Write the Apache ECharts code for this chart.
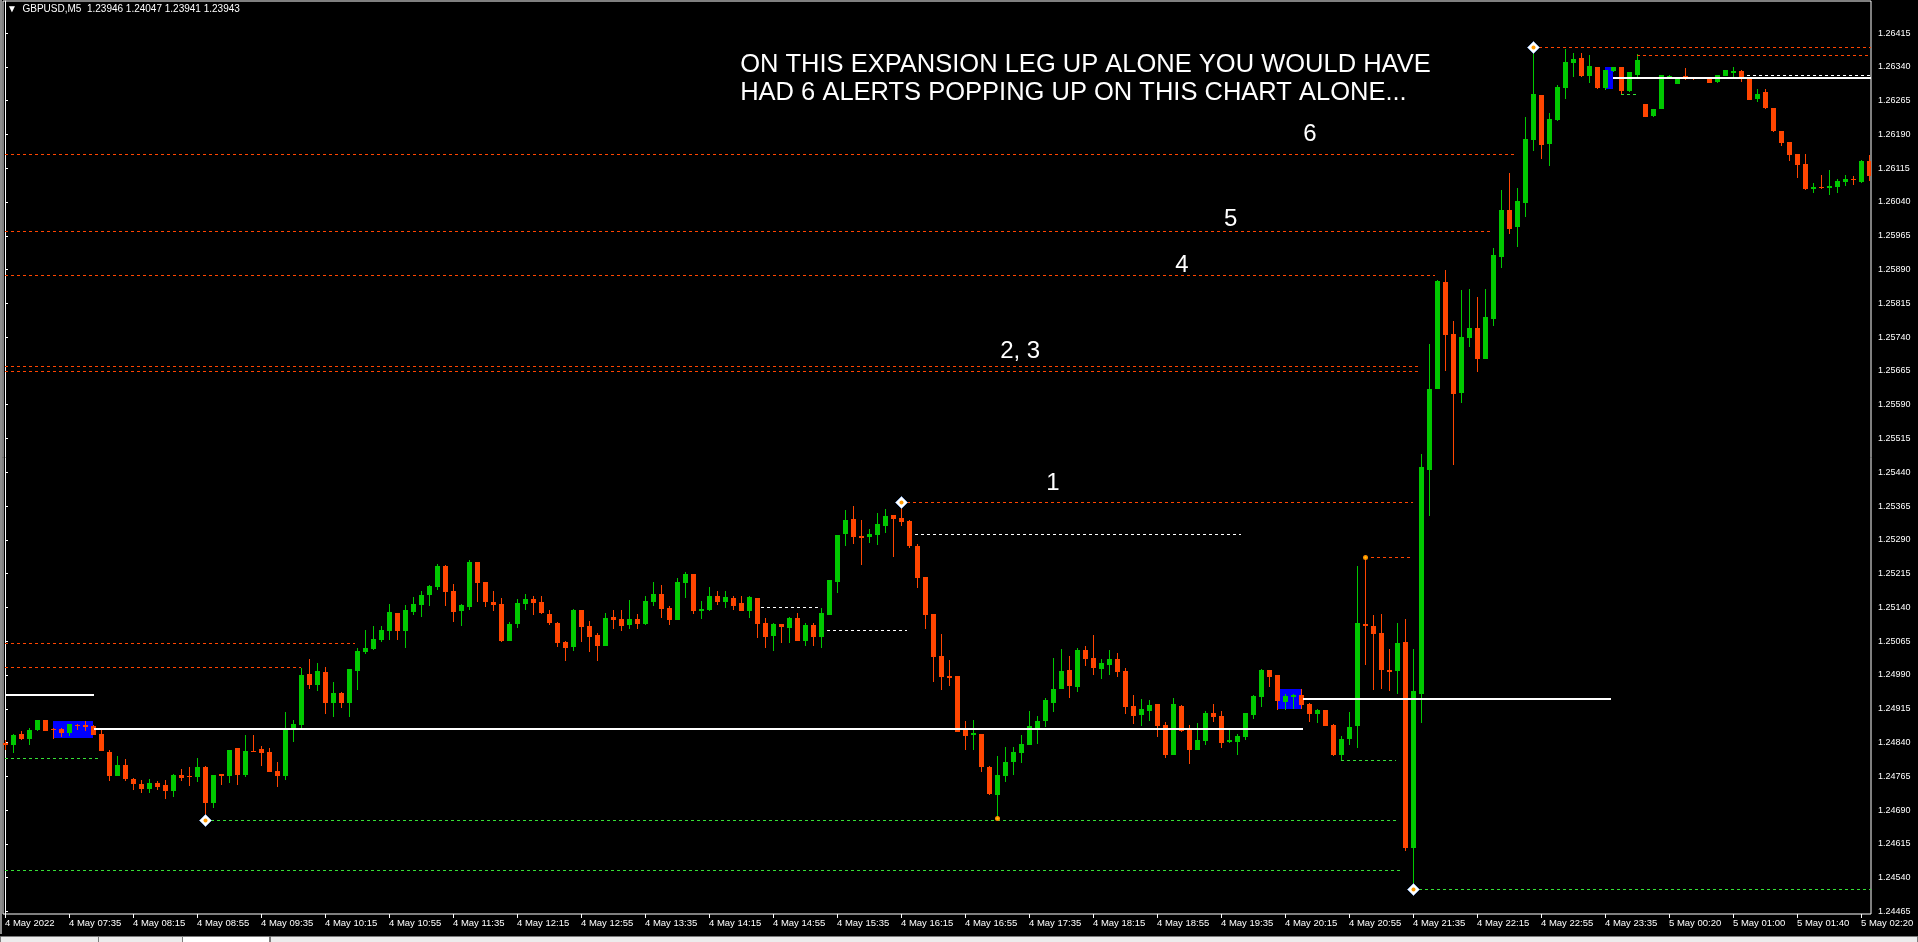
<!DOCTYPE html>
<html>
<head>
<meta charset="utf-8">
<title>GBPUSD,M5</title>
<script src="https://cdn.jsdelivr.net/npm/echarts@6/dist/echarts.min.js"></script>
<style>
  html, body { margin: 0; padding: 0; background: #000; overflow: hidden; }
  #chart { width: 1918px; height: 942px; }
</style>
</head>
<body>
<div id="chart"></div>
<script>
// GBPUSD M5, bars from 4 May 2022 06:55 (index 0) to 5 May 02:25 (index 233)
const opens = [
  1.24839,1.24834,1.24858,1.24847,1.24867,1.24890,1.24871,1.24870,1.24861,1.24878,
  1.24879,1.24876,1.24859,1.24819,1.24766,1.24790,1.24759,1.24748,1.24737,1.24750,
  1.24745,1.24733,1.24768,1.24765,1.24764,1.24785,1.24706,1.24770,1.24766,1.24827,
  1.24768,1.24821,1.24825,1.24819,1.24776,1.24766,1.24867,1.24879,1.24992,1.24967,
  1.24996,1.24927,1.24950,1.24927,1.24998,1.25041,1.25047,1.25067,1.25087,1.25127,
  1.25087,1.25129,1.25145,1.25167,1.25185,1.25232,1.25176,1.25132,1.25141,1.25240,
  1.25196,1.25152,1.25147,1.25065,1.25103,1.25147,1.25158,1.25152,1.25125,1.25105,
  1.25063,1.25052,1.25134,1.25098,1.25078,1.25054,1.25118,1.25114,1.25100,1.25114,
  1.25103,1.25152,1.25169,1.25138,1.25112,1.25194,1.25214,1.25132,1.25134,1.25165,
  1.25152,1.25160,1.25149,1.25132,1.25160,1.25105,1.25076,1.25103,1.25094,1.25116,
  1.25065,1.25100,1.25074,1.25123,1.25196,1.25303,1.25336,1.25298,1.25296,1.25300,
  1.25320,1.25345,1.25338,1.25331,1.25276,1.25207,1.25125,1.25032,1.24987,1.24987,
  1.24867,1.24856,1.24859,1.24785,1.24723,1.24765,1.24796,1.24816,1.24834,1.24872,
  1.24887,1.24927,1.24958,1.25001,1.24963,1.25045,1.25027,1.25003,1.25012,1.25025,
  1.24998,1.24921,1.24901,1.24910,1.24925,1.24879,1.24812,1.24921,1.24870,1.24823,
  1.24843,1.24905,1.24899,1.24841,1.24841,1.24852,1.24901,1.24941,1.25001,1.24990,
  1.24930,1.24941,1.24945,1.24925,1.24903,1.24912,1.24879,1.24812,1.24847,1.24876,
  1.25103,1.25098,1.25083,1.25001,1.24998,1.25063,1.24605,1.24947,1.25445,1.25624,
  1.25862,1.25747,1.25616,1.25738,1.25760,1.25691,1.25780,1.25918,1.26022,1.25984,
  1.26037,1.26177,1.26277,1.26168,1.26222,1.26293,1.26348,1.26359,1.26319,1.26339,
  1.26293,1.26330,1.26339,1.26286,1.26322,1.26257,1.26230,1.26246,1.26313,1.26301,
  1.26319,1.26315,1.26315,1.26315,1.26306,1.26319,1.26326,1.26330,1.26317,1.26268,
  1.26284,1.26248,1.26197,1.26173,1.26146,1.26124,1.26068,1.26073,1.26071,1.26073,
  1.26084,1.26091,1.26084,1.26131
];
const highs = [
  1.24845,1.24859,1.24865,1.24873,1.24891,1.24890,1.24873,1.24873,1.24881,1.24882,
  1.24887,1.24878,1.24869,1.24823,1.24810,1.24803,1.24761,1.24756,1.24759,1.24754,
  1.24756,1.24770,1.24781,1.24785,1.24805,1.24787,1.24768,1.24770,1.24823,1.24827,
  1.24856,1.24856,1.24832,1.24827,1.24796,1.24907,1.24890,1.25005,1.25025,1.25016,
  1.25007,1.24974,1.24952,1.25003,1.25049,1.25089,1.25098,1.25098,1.25147,1.25127,
  1.25145,1.25163,1.25176,1.25189,1.25236,1.25234,1.25192,1.25147,1.25245,1.25240,
  1.25196,1.25176,1.25160,1.25107,1.25158,1.25169,1.25165,1.25165,1.25134,1.25107,
  1.25065,1.25136,1.25134,1.25109,1.25083,1.25127,1.25134,1.25134,1.25156,1.25125,
  1.25165,1.25196,1.25189,1.25143,1.25205,1.25218,1.25214,1.25154,1.25185,1.25176,
  1.25176,1.25165,1.25165,1.25165,1.25160,1.25116,1.25105,1.25103,1.25118,1.25127,
  1.25105,1.25105,1.25138,1.25200,1.25300,1.25356,1.25365,1.25334,1.25314,1.25349,
  1.25358,1.25345,1.25375,1.25334,1.25280,1.25207,1.25125,1.25080,1.25023,1.24987,
  1.24887,1.24890,1.24859,1.24787,1.24810,1.24830,1.24830,1.24856,1.24910,1.24899,
  1.24938,1.25027,1.25047,1.25032,1.25049,1.25054,1.25078,1.25025,1.25045,1.25038,
  1.25005,1.24945,1.24936,1.24934,1.24925,1.24885,1.24938,1.24923,1.24879,1.24883,
  1.24910,1.24925,1.24910,1.24872,1.24859,1.24905,1.24945,1.25003,1.25001,1.24990,
  1.24947,1.24947,1.24958,1.24927,1.24914,1.24912,1.24881,1.24854,1.24907,1.25232,
  1.25253,1.25123,1.25125,1.25047,1.25105,1.25114,1.25047,1.25480,1.25724,1.25866,
  1.25889,1.25775,1.25844,1.25846,1.25829,1.25846,1.25937,1.26066,1.26104,1.26071,
  1.26228,1.26383,1.26277,1.26237,1.26299,1.26380,1.26370,1.26370,1.26366,1.26339,
  1.26333,1.26339,1.26339,1.26328,1.26368,1.26257,1.26246,1.26322,1.26322,1.26315,
  1.26337,1.26315,1.26315,1.26317,1.26322,1.26333,1.26339,1.26333,1.26317,1.26290,
  1.26290,1.26248,1.26197,1.26173,1.26146,1.26146,1.26082,1.26100,1.26111,1.26091,
  1.26100,1.26097,1.26133,1.26144
];
const lows = [
  1.24823,1.24817,1.24845,1.24835,1.24866,1.24865,1.24848,1.24853,1.24855,1.24867,
  1.24865,1.24856,1.24821,1.24754,1.24765,1.24754,1.24735,1.24728,1.24728,1.24734,
  1.24715,1.24719,1.24754,1.24744,1.24752,1.24669,1.24695,1.24746,1.24750,1.24746,
  1.24764,1.24818,1.24788,1.24774,1.24742,1.24756,1.24841,1.24872,1.24958,1.24954,
  1.24903,1.24896,1.24916,1.24896,1.24956,1.25036,1.25045,1.25063,1.25067,1.25067,
  1.25049,1.25123,1.25118,1.25143,1.25178,1.25143,1.25107,1.25098,1.25134,1.25152,
  1.25141,1.25132,1.25063,1.25065,1.25094,1.25134,1.25123,1.25125,1.25100,1.25052,
  1.25021,1.25043,1.25063,1.25041,1.25021,1.25054,1.25092,1.25087,1.25092,1.25092,
  1.25100,1.25143,1.25116,1.25100,1.25112,1.25160,1.25125,1.25114,1.25132,1.25145,
  1.25138,1.25134,1.25132,1.25116,1.25072,1.25049,1.25043,1.25061,1.25061,1.25065,
  1.25054,1.25054,1.25049,1.25123,1.25172,1.25276,1.25280,1.25234,1.25283,1.25278,
  1.25305,1.25252,1.25320,1.25271,1.25183,1.25092,1.24974,1.24956,1.24965,1.24863,
  1.24823,1.24823,1.24774,1.24723,1.24672,1.24752,1.24768,1.24794,1.24834,1.24836,
  1.24874,1.24907,1.24958,1.24938,1.24952,1.25010,1.24990,1.24981,1.24990,1.24985,
  1.24903,1.24881,1.24876,1.24887,1.24852,1.24805,1.24812,1.24863,1.24792,1.24823,
  1.24834,1.24885,1.24827,1.24839,1.24812,1.24845,1.24892,1.24918,1.24963,1.24912,
  1.24912,1.24914,1.24914,1.24885,1.24883,1.24876,1.24810,1.24801,1.24834,1.24827,
  1.25012,1.24956,1.24958,1.24954,1.24947,1.24599,1.24514,1.24883,1.25343,1.25624,
  1.25664,1.25456,1.25593,1.25718,1.25662,1.25691,1.25764,1.25893,1.25969,1.25940,
  1.26006,1.26153,1.26135,1.26120,1.26219,1.26268,1.26317,1.26317,1.26304,1.26290,
  1.26288,1.26328,1.26277,1.26284,1.26315,1.26228,1.26228,1.26246,1.26313,1.26301,
  1.26310,1.26310,1.26313,1.26304,1.26304,1.26319,1.26313,1.26306,1.26266,1.26262,
  1.26246,1.26195,1.26164,1.26131,1.26093,1.26066,1.26060,1.26068,1.26055,1.26060,
  1.26075,1.26077,1.26082,1.26086
];
const closes = [
  1.24835,1.24856,1.24849,1.24867,1.24890,1.24865,1.24869,1.24861,1.24881,1.24876,
  1.24875,1.24857,1.24821,1.24766,1.24790,1.24759,1.24748,1.24737,1.24750,1.24741,
  1.24733,1.24768,1.24761,1.24764,1.24785,1.24706,1.24768,1.24766,1.24823,1.24768,
  1.24821,1.24819,1.24816,1.24775,1.24766,1.24870,1.24881,1.24990,1.24967,1.24998,
  1.24927,1.24950,1.24927,1.25003,1.25043,1.25049,1.25069,1.25089,1.25129,1.25087,
  1.25134,1.25147,1.25167,1.25187,1.25232,1.25174,1.25129,1.25145,1.25240,1.25194,
  1.25152,1.25145,1.25065,1.25103,1.25149,1.25158,1.25149,1.25127,1.25105,1.25061,
  1.25049,1.25134,1.25096,1.25074,1.25054,1.25116,1.25112,1.25098,1.25114,1.25103,
  1.25154,1.25169,1.25136,1.25112,1.25196,1.25214,1.25132,1.25136,1.25165,1.25152,
  1.25163,1.25143,1.25132,1.25163,1.25103,1.25074,1.25103,1.25096,1.25116,1.25065,
  1.25100,1.25074,1.25127,1.25200,1.25300,1.25334,1.25296,1.25294,1.25303,1.25325,
  1.25343,1.25336,1.25329,1.25276,1.25205,1.25123,1.25029,1.24985,1.24983,1.24863,
  1.24854,1.24861,1.24785,1.24725,1.24768,1.24796,1.24819,1.24836,1.24876,1.24887,
  1.24934,1.24958,1.24998,1.24965,1.25045,1.25025,1.25005,1.25016,1.25025,1.24996,
  1.24918,1.24899,1.24914,1.24923,1.24876,1.24812,1.24925,1.24865,1.24823,1.24845,
  1.24905,1.24896,1.24839,1.24845,1.24854,1.24905,1.24943,1.25001,1.24985,1.24932,
  1.24943,1.24945,1.24923,1.24903,1.24912,1.24876,1.24812,1.24847,1.24874,1.25105,
  1.25098,1.25080,1.25001,1.24996,1.25061,1.24605,1.24954,1.25451,1.25624,1.25864,
  1.25744,1.25613,1.25740,1.25760,1.25691,1.25784,1.25922,1.26022,1.25980,1.26042,
  1.26179,1.26279,1.26166,1.26224,1.26295,1.26350,1.26357,1.26319,1.26342,1.26293,
  1.26333,1.26339,1.26286,1.26328,1.26355,1.26228,1.26246,1.26322,1.26319,1.26315,
  1.26313,1.26313,1.26313,1.26304,1.26322,1.26333,1.26330,1.26317,1.26266,1.26279,
  1.26248,1.26197,1.26171,1.26144,1.26122,1.26068,1.26073,1.26071,1.26075,1.26086,
  1.26091,1.26088,1.26131,1.26097
];

// Time axis: one label every 8 bars
const timeTickBars = [0,8,16,24,32,40,48,56,64,72,80,88,96,104,112,120,128,136,144,152,160,168,176,184,192,200,208,216,224,232];
const timeTickLabels = [
  '4 May 2022','4 May 07:35','4 May 08:15','4 May 08:55','4 May 09:35','4 May 10:15',
  '4 May 10:55','4 May 11:35','4 May 12:15','4 May 12:55','4 May 13:35','4 May 14:15',
  '4 May 14:55','4 May 15:35','4 May 16:15','4 May 16:55','4 May 17:35','4 May 18:15',
  '4 May 18:55','4 May 19:35','4 May 20:15','4 May 20:55','4 May 21:35','4 May 22:15',
  '4 May 22:55','4 May 23:35','5 May 00:20','5 May 01:00','5 May 01:40','5 May 02:20'
];
const priceTicks = [
  1.24465,1.24540,1.24615,1.24690,1.24765,1.24840,1.24915,1.24990,1.25065,
  1.25140,1.25215,1.25290,1.25365,1.25440,1.25515,1.25590,1.25665,1.25740,
  1.25815,1.25890,1.25965,1.26040,1.26115,1.26190,1.26265,1.26340,1.26415
];

// Horizontal levels: [fromBar, toBar, price]
const resistanceLevels = [
  [191, 233.25, 1.26383], [204, 233.25, 1.26367],
  [0, 188.6, 1.26147], [0, 185.6, 1.25975], [0, 178.8, 1.25877],
  [0, 176.6, 1.25675], [0, 176.6, 1.25664],
  [112, 176, 1.25375], [170, 175.6, 1.25253],
  [0, 43.8, 1.25060], [0, 37, 1.25007]
];
const supportLevels = [
  [0, 11.6, 1.24805], [25, 173.9, 1.24669], [167, 173.9, 1.24801],
  [0, 174.7, 1.24557], [176, 233.25, 1.24514], [202, 203.9, 1.26279]
];
const midLevels = [
  [113.7, 154.5, 1.25304], [94.5, 101.6, 1.25140], [102.7, 112.8, 1.25089], [217.7, 233.25, 1.26321]
];
const sessionLevels = [
  [0, 11.1, 1.24945], [11.1, 162.2, 1.24870], [162.2, 200.8, 1.24937], [201, 233.25, 1.26316]
];
// Shaded zones: [fromBar, toBar, topPrice, bottomPrice]
const zones = [
  [6, 11, 1.24887, 1.24850], [159, 162, 1.24958, 1.24914], [200, 201, 1.26339, 1.26290]
];
// Swing points: bar index and price
const swingBars = [25, 112, 176, 191];
const swingPrices = [1.24669, 1.25375, 1.24514, 1.26383];
const touchBars = [124, 170];
const touchPrices = [1.24672, 1.25253];

// Chart notes
const noteTexts = ['ON THIS EXPANSION LEG UP ALONE YOU WOULD HAVE', 'HAD 6 ALERTS POPPING UP ON THIS CHART ALONE...', '6', '5', '4', '2, 3', '1'];
const noteBars = [91.9, 91.9, 163.1, 153.2, 147.1, 126.9, 131];
const notePrices = [1.26344, 1.26282, 1.26189, 1.26002, 1.25899, 1.25709, 1.25415];

const BULL = '#00C800';
const BEAR = '#FF4500';
const FONT = '"Liberation Sans", Arial, "DejaVu Sans", sans-serif';

const candles = opens.map((o, i) => [i, o, highs[i], lows[i], closes[i]]);

function levelSeries(rows, color, width, dash, z) {
  return {
    type: 'custom', z: z, silent: true, clip: true,
    data: rows, encode: { x: [0, 1], y: 2 },
    renderItem: function (params, api) {
      const a = api.coord([api.value(0), api.value(2)]);
      const b = api.coord([api.value(1), api.value(2)]);
      const y = width % 2 ? Math.round(a[1]) + 0.5 : Math.round(a[1]);
      return {
        type: 'line',
        shape: { x1: Math.round(a[0]), y1: y, x2: Math.round(b[0]), y2: y },
        style: { stroke: color, lineWidth: width, lineDash: dash }
      };
    }
  };
}

const chart = echarts.init(document.getElementById('chart'), null, { renderer: 'canvas' });

chart.setOption({
  backgroundColor: '#000000',
  animation: false,
  grid: {
    left: 3, top: 1, width: 1868, height: 913,
    show: true, borderColor: '#ffffff', borderWidth: 1,
    containLabel: false, outerBoundsMode: 'none'
  },
  xAxis: {
    type: 'value', min: -0.25, max: 233.25,
    axisLine: { show: false },
    splitLine: { show: false },
    axisTick: { show: true, length: 4, lineStyle: { color: '#ffffff' }, customValues: timeTickBars },
    axisLabel: {
      customValues: timeTickBars,
      formatter: function (v) { const k = timeTickBars.indexOf(Math.round(v)); return k >= 0 ? timeTickLabels[k] : ''; },
      color: '#ffffff', fontSize: 9.5, fontFamily: FONT, align: 'left', margin: 4
    }
  },
  yAxis: {
    type: 'value', position: 'right', min: 1.244595, max: 1.264861,
    axisLine: { show: true, lineStyle: { color: '#ffffff', width: 1 } },
    splitLine: { show: false },
    axisTick: { show: true, length: 3, lineStyle: { color: '#ffffff' }, customValues: priceTicks },
    axisLabel: {
      customValues: priceTicks,
      formatter: function (v) { return v.toFixed(5); },
      color: '#ffffff', fontSize: 9, fontFamily: FONT, margin: 7
    }
  },
  graphic: [
    { type: 'rect', left: 0, top: 0, shape: { width: 2, height: 934 }, style: { fill: '#8c8c8c' }, z: 10 },
    { type: 'text', left: 7, top: 4, style: { text: '\u25BC  GBPUSD,M5  1.23946 1.24047 1.23941 1.23943', fill: '#ffffff', font: '10px ' + FONT }, z: 10 },
    { type: 'rect', shape: { x: 0.5, y: 936.5, width: 182, height: 6 }, style: { fill: '#ececec', stroke: '#7a7a7a' }, z: 10 },
    { type: 'line', shape: { x1: 98.5, y1: 937, x2: 98.5, y2: 942 }, style: { stroke: '#7a7a7a' }, z: 10 },
    { type: 'rect', shape: { x: 182.5, y: 936.5, width: 87, height: 6 }, style: { fill: '#ffffff', stroke: '#7a7a7a' }, z: 10 },
    { type: 'rect', shape: { x: 270.5, y: 936.5, width: 1647, height: 6 }, style: { fill: '#ececec', stroke: '#7a7a7a' }, z: 10 }
  ],
  series: [
    // shaded zones
    {
      type: 'custom', z: 1, silent: true, clip: true,
      data: zones, encode: { x: [0, 1], y: [2, 3] },
      renderItem: function (params, api) {
        const p1 = api.coord([api.value(0), api.value(2)]);
        const p2 = api.coord([api.value(1), api.value(3)]);
        return {
          type: 'rect',
          shape: { x: Math.round(p1[0]), y: Math.round(p1[1]), width: Math.round(p2[0]) - Math.round(p1[0]), height: Math.round(p2[1]) - Math.round(p1[1]) },
          style: { fill: '#0000FF' }
        };
      }
    },
    // candles
    {
      type: 'custom', z: 3, silent: true, clip: true,
      data: candles, encode: { x: 0, y: [1, 2, 3, 4] },
      renderItem: function (params, api) {
        const i = api.value(0), o = api.value(1), h = api.value(2), l = api.value(3), c = api.value(4);
        const x = Math.round(api.coord([i, o])[0]);
        const yo = api.coord([i, o])[1], yc = api.coord([i, c])[1];
        const yh = Math.round(api.coord([i, h])[1]), yl = Math.round(api.coord([i, l])[1]);
        const top = Math.round(Math.min(yo, yc)), bot = Math.round(Math.max(yo, yc));
        const color = c > o ? BULL : BEAR;
        return {
          type: 'group',
          children: [
            { type: 'rect', shape: { x: x, y: yh, width: 1, height: Math.max(1, yl - yh) }, style: { fill: color } },
            { type: 'rect', shape: { x: x - 2, y: top, width: 5, height: Math.max(1, bot - top) }, style: { fill: color } }
          ]
        };
      }
    },
    levelSeries(resistanceLevels, '#FF4500', 1, [3, 3], 4),
    levelSeries(supportLevels, '#36E036', 1, [3, 3], 4),
    levelSeries(midLevels, '#ffffff', 1, [3, 3], 4),
    levelSeries(sessionLevels, '#ffffff', 2, null, 4),
    // swing markers
    {
      type: 'custom', z: 6, silent: true, clip: false,
      data: swingBars.map((b, k) => [b, swingPrices[k]]), encode: { x: 0, y: 1 },
      renderItem: function (params, api) {
        const p = api.coord([api.value(0), api.value(1)]);
        const cx = Math.round(p[0]) + 0.5, cy = Math.round(p[1]) + 0.5;
        return {
          type: 'group',
          children: [
            { type: 'polygon', shape: { points: [[cx, cy - 6], [cx + 6, cy], [cx, cy + 6], [cx - 6, cy]] }, style: { fill: '#ffffff', stroke: '#8fb0e0', lineWidth: 1 } },
            { type: 'circle', shape: { cx: cx, cy: cy, r: 2 }, style: { fill: '#FF9900' } }
          ]
        };
      }
    },
    // touch markers
    {
      type: 'custom', z: 6, silent: true, clip: false,
      data: touchBars.map((b, k) => [b, touchPrices[k]]), encode: { x: 0, y: 1 },
      renderItem: function (params, api) {
        const p = api.coord([api.value(0), api.value(1)]);
        return {
          type: 'group',
          children: [
            { type: 'circle', shape: { cx: Math.round(p[0]) + 0.5, cy: Math.round(p[1]) + 0.5, r: 2.5 }, style: { fill: '#FF8C00' } },
            { type: 'circle', shape: { cx: Math.round(p[0]) + 0.5, cy: Math.round(p[1]) + 0.5, r: 1 }, style: { fill: '#FFD000' } }
          ]
        };
      }
    },
    // notes
    {
      type: 'custom', z: 7, silent: true, clip: false,
      data: noteBars.map((b, k) => [b, notePrices[k]]), encode: { x: 0, y: 1 },
      renderItem: function (params, api) {
        const k = params.dataIndex;
        const p = api.coord([api.value(0), api.value(1)]);
        const isHeadline = k < 2;
        return {
          type: 'text',
          x: p[0], y: p[1],
          style: {
            text: noteTexts[k], fill: '#ffffff',
            fontSize: isHeadline ? 25.5 : 24, fontFamily: FONT,
            align: isHeadline ? 'left' : 'center', verticalAlign: 'middle',
            textAlign: isHeadline ? 'left' : 'center', textVerticalAlign: 'middle'
          }
        };
      }
    }
  ]
});
</script>
</body>
</html>
